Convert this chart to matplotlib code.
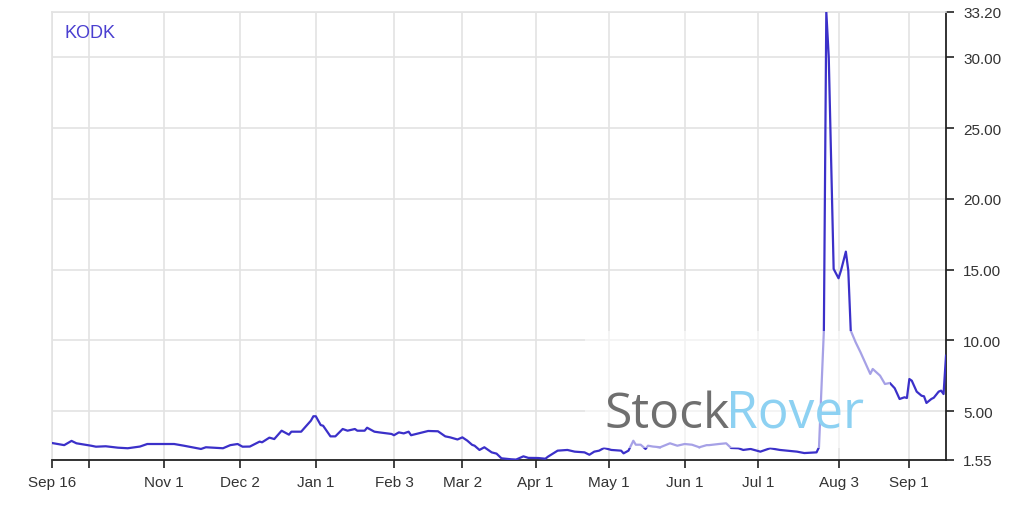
import pandas as pd
import matplotlib
matplotlib.use("Agg")
import matplotlib.pyplot as plt
from matplotlib.patches import Rectangle

# ============================================================
# DATOS
# ============================================================

TICKER = "KODK"

dates = [
    "2019-09-16", "2019-09-21", "2019-09-24", "2019-09-26", "2019-10-02",
    "2019-10-04", "2019-10-08", "2019-10-13", "2019-10-17", "2019-10-22",
    "2019-10-25", "2019-11-05", "2019-11-09", "2019-11-16", "2019-11-18",
    "2019-11-25", "2019-11-28", "2019-12-01", "2019-12-03", "2019-12-06",
    "2019-12-10", "2019-12-11", "2019-12-14", "2019-12-16", "2019-12-19",
    "2019-12-22", "2019-12-23", "2019-12-27", "2019-12-31", "2020-01-01",
    "2020-01-02", "2020-01-04", "2020-01-05", "2020-01-08", "2020-01-10",
    "2020-01-11", "2020-01-13", "2020-01-15", "2020-01-18", "2020-01-19",
    "2020-01-22", "2020-01-23", "2020-01-26", "2020-01-28", "2020-02-02",
    "2020-02-03", "2020-02-05", "2020-02-07", "2020-02-09", "2020-02-10",
    "2020-02-13", "2020-02-17", "2020-02-21", "2020-02-24", "2020-02-26",
    "2020-02-29", "2020-03-02", "2020-03-04", "2020-03-06", "2020-03-07",
    "2020-03-09", "2020-03-11", "2020-03-14", "2020-03-16", "2020-03-18",
    "2020-03-22", "2020-03-24", "2020-03-27", "2020-03-29", "2020-04-02",
    "2020-04-05", "2020-04-06", "2020-04-10", "2020-04-14", "2020-04-17",
    "2020-04-21", "2020-04-23", "2020-04-25", "2020-04-27", "2020-04-29",
    "2020-05-02", "2020-05-06", "2020-05-07", "2020-05-09", "2020-05-11",
    "2020-05-12", "2020-05-14", "2020-05-16", "2020-05-17", "2020-05-19",
    "2020-05-22", "2020-05-26", "2020-05-29", "2020-06-01", "2020-06-04",
    "2020-06-07", "2020-06-10", "2020-06-11", "2020-06-15", "2020-06-18",
    "2020-06-20", "2020-06-23", "2020-06-25", "2020-06-28", "2020-07-02",
    "2020-07-06", "2020-07-10", "2020-07-13", "2020-07-17", "2020-07-20",
    "2020-07-25", "2020-07-26", "2020-07-28", "2020-07-29", "2020-07-30",
    "2020-08-01", "2020-08-03", "2020-08-04", "2020-08-06", "2020-08-07",
    "2020-08-08", "2020-08-10", "2020-08-12", "2020-08-16", "2020-08-17",
    "2020-08-20", "2020-08-22", "2020-08-24", "2020-08-26", "2020-08-28",
    "2020-08-30", "2020-08-31", "2020-09-01", "2020-09-02", "2020-09-04",
    "2020-09-06", "2020-09-07", "2020-09-08", "2020-09-10", "2020-09-11",
    "2020-09-13", "2020-09-14", "2020-09-15", "2020-09-16",
]

prices = [
    2.75, 2.60, 2.90, 2.73, 2.56,
    2.49, 2.52, 2.42, 2.38, 2.50,
    2.68, 2.68, 2.56, 2.33, 2.45,
    2.38, 2.60, 2.68, 2.49, 2.50,
    2.85, 2.80, 3.13, 3.03, 3.62,
    3.34, 3.55, 3.55, 4.33, 4.64,
    4.64, 4.02, 3.97, 3.22, 3.22,
    3.39, 3.74, 3.62, 3.74, 3.62,
    3.62, 3.83, 3.55, 3.50, 3.39,
    3.30, 3.50, 3.43, 3.55, 3.30,
    3.43, 3.60, 3.58, 3.22, 3.15,
    3.00, 3.15, 2.92, 2.62, 2.56,
    2.26, 2.45, 2.09, 2.00, 1.67,
    1.60, 1.58, 1.81, 1.70, 1.69,
    1.64, 1.78, 2.21, 2.26, 2.14,
    2.09, 1.92, 2.14, 2.21, 2.40,
    2.26, 2.21, 2.02, 2.21, 2.91,
    2.63, 2.63, 2.33, 2.56, 2.50,
    2.45, 2.73, 2.56, 2.68, 2.63,
    2.45, 2.60, 2.60, 2.68, 2.73,
    2.40, 2.38, 2.26, 2.33, 2.14,
    2.38, 2.26, 2.21, 2.14, 2.04,
    2.09, 2.45, 10.69, 33.20, 30.00,
    15.05, 14.39, 14.93, 16.27, 14.93,
    10.69, 9.87, 9.16, 7.63, 7.98,
    7.51, 6.92, 6.99, 6.62, 5.86,
    5.98, 5.93, 7.27, 7.15, 6.38,
    6.09, 6.05, 5.58, 5.86, 5.95,
    6.38, 6.45, 6.21, 8.92,
]

tick_dates = [
    "2019-09-16", "2019-10-01", "2019-11-01", "2019-12-02", "2020-01-02",
    "2020-02-03", "2020-03-02", "2020-04-01", "2020-05-01", "2020-06-01",
    "2020-07-01", "2020-08-03", "2020-09-01",
]
tick_labels = [
    "Sep 16", "", "Nov 1", "Dec 2", "Jan 1", "Feb 3", "Mar 2",
    "Apr 1", "May 1", "Jun 1", "Jul 1", "Aug 3", "Sep 1",
]

y_ticks = [1.55, 5.00, 10.00, 15.00, 20.00, 25.00, 30.00, 33.20]


# ============================================================
# GRÁFICO
# ============================================================

plt.rcParams["font.family"] = ["Liberation Sans", "DejaVu Sans"]

x = pd.to_datetime(dates)
xt = pd.to_datetime(tick_dates)

fig = plt.figure(figsize=(10.24, 5.06), dpi=100)
ax = fig.add_axes([52 / 1024, 1 - 461 / 506, 894 / 1024, 448 / 506])

ax.plot(x, prices, color="#3b30c9", linewidth=1.6, zorder=3)

ax.set_xlim(x[0], x[-1])
ax.set_ylim(y_ticks[0], y_ticks[-1])

ax.set_xticks(xt)
ax.set_xticklabels(tick_labels)
ax.set_yticks(y_ticks)
ax.set_yticklabels([f"{v:.2f}" for v in y_ticks])

ax.yaxis.tick_right()
ax.grid(True, color="#e3e3e3", linewidth=1.2, zorder=0)
ax.set_axisbelow(True)

for side in ["left", "top"]:
    ax.spines[side].set_color("#e3e3e3")
    ax.spines[side].set_linewidth(1.2)
for side in ["bottom", "right"]:
    ax.spines[side].set_color("#222222")
    ax.spines[side].set_linewidth(1.3)

ax.tick_params(axis="both", colors="#222222", labelcolor="#333333",
               labelsize=11, length=5.5, width=1.2, direction="out")
ax.tick_params(axis="x", pad=5)
ax.tick_params(axis="y", pad=7)

ax.text(0.014, 0.955, TICKER, transform=ax.transAxes, color="#4a3fd0",
        fontsize=13, ha="left", va="center")

# marca de agua
fig.patches.append(Rectangle((585 / 1024, 1 - 449 / 506), 305 / 1024, 117 / 506,
                             transform=fig.transFigure, facecolor="white",
                             edgecolor="none", alpha=0.55, zorder=5))
fig.text(604 / 1024, 1 - 428 / 506, "Stock", color="#6f6f6f", fontsize=36,
         family="Open Sans", ha="left", va="baseline", zorder=6)
fig.text(726 / 1024, 1 - 428 / 506, "Rover", color="#8dd1f2", fontsize=37,
         family="Open Sans", ha="left", va="baseline", zorder=6)

fig.savefig("out.png", dpi=100)
